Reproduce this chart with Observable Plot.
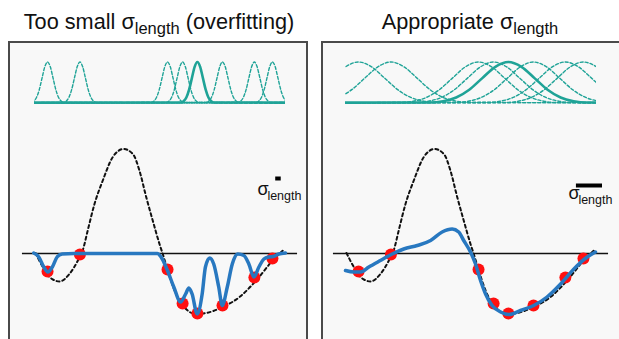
<!DOCTYPE html>
<html><head><meta charset="utf-8">
<script src="https://cdn.jsdelivr.net/npm/d3@7"></script>
<script src="https://cdn.jsdelivr.net/npm/@observablehq/plot@0.6"></script>
<style>
body{margin:0;width:619px;height:339px;overflow:hidden;background:#fff;font-family:"Liberation Sans",Arial,sans-serif;position:relative}
.title{position:absolute;top:10px;font-size:21.7px;line-height:24px;color:#111;white-space:nowrap;transform:translateX(-50%)}
.title .sub{font-size:16.5px;position:relative;top:5px}
.panel{position:absolute;top:41px;border:2px solid #4a4a4a;background:#f8f8f8;width:296px;height:320px}
.panel svg{display:block}
</style></head><body>
<div class="title" style="left:159px">Too small σ<span class="sub">length</span> (overfitting)</div>
<div class="title" style="left:470px">Appropriate σ<span class="sub">length</span></div>
<div id="p0" class="panel" style="left:8px"></div>
<div id="p1" class="panel" style="left:321px"></div>
<script>
// observed samples
const sampleX = [0.52, 1.81, 5.30, 5.90, 6.49, 7.49, 8.76, 9.48];
const sampleY = [-0.36, -0.02, -0.32, -1.00, -1.20, -1.04, -0.48, -0.10];
// true function (dashed)
const trueX = [0.04,0.33,0.60,1.00,1.39,1.73,1.92,2.12,2.39,2.72,3.12,3.55,3.92,4.18,4.45,4.71,4.98,5.11,5.31,5.58,5.91,6.44,6.84,7.50,8.17,8.83,9.49,9.96];
const trueY = [0.01,-0.27,-0.47,-0.56,-0.41,-0.14,0.06,0.46,0.99,1.46,1.93,2.09,1.99,1.66,1.13,0.66,0.19,-0.01,-0.34,-0.74,-1.04,-1.21,-1.19,-1.07,-0.87,-0.54,-0.14,0.09];
// fit with too small length scale
const fitSmallX = [-0.03,0.17,0.37,0.53,0.71,0.90,1.10,1.57,2.63,3.96,4.89,5.09,5.29,5.55,5.82,6.02,6.15,6.28,6.48,6.68,6.81,6.98,7.14,7.34,7.48,7.68,7.88,8.10,8.34,8.54,8.74,8.94,9.14,9.33,9.51,9.73,10.0];
const fitSmallY = [0.01,-0.07,-0.27,-0.37,-0.27,-0.07,-0.01,0,0,0,0,-0.11,-0.33,-0.67,-0.97,-0.81,-0.69,-0.81,-1.21,-0.81,-0.27,-0.09,-0.21,-0.67,-1.04,-0.67,-0.21,-0.01,-0.04,-0.21,-0.47,-0.27,-0.11,-0.07,-0.06,-0.01,0.01];
// fit with appropriate length scale
const fitGoodX = [0,0.33,0.60,0.93,1.39,1.86,2.32,2.86,3.39,3.85,4.25,4.51,4.71,4.98,5.18,5.38,5.58,5.84,6.18,6.51,6.97,7.50,8.03,8.57,9.10,9.63,9.96];
const fitGoodY = [-0.34,-0.37,-0.37,-0.27,-0.14,-0.01,0.09,0.16,0.26,0.43,0.49,0.43,0.26,0.03,-0.21,-0.54,-0.81,-1.04,-1.17,-1.22,-1.14,-1.04,-0.87,-0.61,-0.31,-0.07,0.03];
// kernel bump profile (offset in sigma units, relative height)
const kernelOffset = [-3,-2.5,-2,-1.5,-1,-0.5,0,0.5,1,1.5,2,2.5,3];
const kernelHeight = [0.011,0.044,0.135,0.325,0.607,0.882,1,0.882,0.607,0.325,0.135,0.044,0.011];
const kernelBase = 3.01, kernelScale = 0.82;
const highlighted = 4;
// per panel
const sigmaLength = [0.22, 1.04];
const sigmaBarY = [1.5, 1.36];
const sigmaLabelY = [1.18, 1.10];
const sigmaBarCenter = 9.72;
const sigmaLabelX = 8.88;
const zeroExtent = [-0.48, 10.48];
const marginsLR = [[24, 21], [22, 23]];

const teal = "#1fa397";
function panel(i) {
  const s = sigmaLength[i];
  const kern = [];
  sampleX.forEach((c, k) => {
    kern.push({x: -30, y: kernelBase, k});
    kernelOffset.forEach((o, j) => kern.push({x: c + o * s, y: kernelBase + kernelScale * kernelHeight[j], k}));
    kern.push({x: 40, y: kernelBase, k});
  });
  const pts = sampleX.map((x, j) => ({x, y: sampleY[j]}));
  const truth = trueX.map((x, j) => ({x, y: trueY[j]}));
  const fit = (i === 0 ? fitSmallX : fitGoodX).map((x, j) => ({x, y: (i === 0 ? fitSmallY : fitGoodY)[j]}));
  return Plot.plot({
    width: 296, height: 296,
    marginLeft: marginsLR[i][0], marginRight: marginsLR[i][1], marginTop: 0, marginBottom: 6,
    x: {domain: [0, 10], axis: null},
    y: {domain: [-1.6, 4.2], axis: null},
    style: {background: "transparent", overflow: "visible", fontFamily: "'Liberation Sans', Arial, sans-serif"},
    marks: [
      Plot.line(kern.filter(d => d.k !== highlighted), {x: "x", y: "y", z: "k", stroke: teal, strokeWidth: 1.4, strokeDasharray: "3,2", curve: "monotone-x", clip: true}),
      Plot.line(kern.filter(d => d.k === highlighted), {x: "x", y: "y", stroke: teal, strokeWidth: 2.6, curve: "monotone-x", clip: true}),
      Plot.ruleY([0], {x1: zeroExtent[0], x2: zeroExtent[1], stroke: "#111", strokeWidth: 1.5}),
      Plot.line(truth, {x: "x", y: "y", stroke: "#111", strokeWidth: 2, strokeDasharray: "3,3", curve: "monotone-x"}),
      Plot.dot(pts, {x: "x", y: "y", r: 6, fill: "#ff1010", stroke: "none"}),
      Plot.line(fit, {x: "x", y: "y", stroke: "#2878c0", strokeWidth: 3.5, curve: "monotone-x"}),
      Plot.ruleY([sigmaBarY[i]], {x1: sigmaBarCenter - s / 2, x2: sigmaBarCenter + s / 2, stroke: "#000", strokeWidth: 4}),
      Plot.text([sigmaLabelY[i]], {x: sigmaLabelX, y: d => d, text: () => "σ", textAnchor: "start", lineAnchor: "bottom", fontSize: 18, fill: "#111"}),
      Plot.text([sigmaLabelY[i]], {x: sigmaLabelX, y: d => d, text: () => "length", textAnchor: "start", lineAnchor: "bottom", dx: 10, dy: 5, fontSize: 12.5, fill: "#111"})
    ]
  });
}
document.getElementById("p0").append(panel(0));
document.getElementById("p1").append(panel(1));
</script>
</body></html>
